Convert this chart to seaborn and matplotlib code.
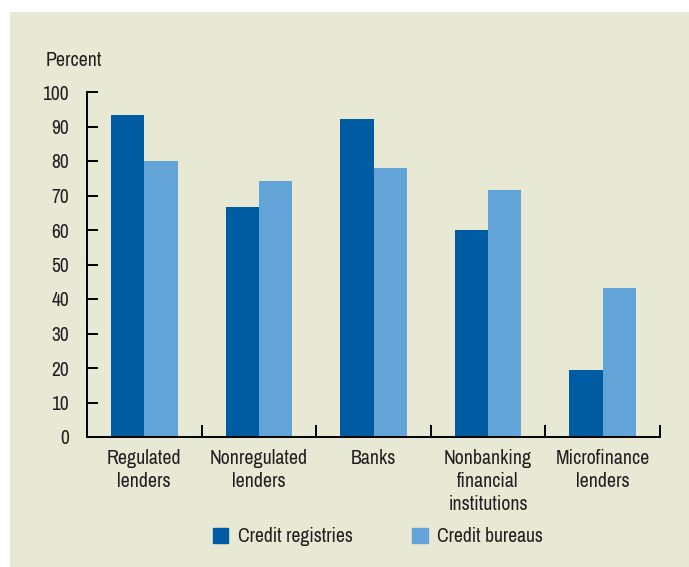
import matplotlib.pyplot as plt
import matplotlib.patches as mpatches
from matplotlib import font_manager
import pandas as pd
import seaborn as sns

categories = ["Regulated\nlenders", "Nonregulated\nlenders", "Banks",
              "Nonbanking\nfinancial\ninstitutions", "Microfinance\nlenders"]
registries = [93.3, 66.7, 92.2, 60.0, 19.4]
bureaus = [80.0, 74.2, 78.0, 71.6, 43.2]
series = ["Credit registries", "Credit bureaus"]
yticks = list(range(0, 101, 10))

data = pd.DataFrame({
    "category": categories * 2,
    "value": registries + bureaus,
    "series": [series[0]] * 5 + [series[1]] * 5,
})

bg = "#e7e9d5"
dark = "#005ca2"
light = "#62a3d8"
ink = "#231f20"

# pick a condensed face if there is one
installed = sorted({f.name for f in font_manager.fontManager.ttflist})
narrow = [n for n in installed if "Narrow" in n or "Condensed" in n]

sns.set_style("white")
plt.rcParams["font.family"] = narrow[:1] + ["Roboto", "DejaVu Sans"]
plt.rcParams["text.color"] = ink

fig = plt.figure(figsize=(6.89, 5.67), dpi=100)
fig.patch.set_facecolor("white")
fig.patches.append(mpatches.Rectangle((10 / 689, 0), 1, 1 - 12 / 567,
                                      transform=fig.transFigure,
                                      facecolor=bg, edgecolor="none", zorder=-10))
ax = fig.add_axes([87 / 689, 1 - 437 / 567, (660 - 87) / 689, (437 - 92) / 567])
ax.set_facecolor(bg)

sns.barplot(data=data, x="category", y="value", hue="series",
            palette=[dark, light], width=0.58, gap=0, saturation=1,
            edgecolor="none", ax=ax)

ax.set_xlim(-0.5, 4.5)
ax.set_ylim(0, 100)
ax.set_yticks(yticks)
ax.set_xlabel("")
ax.set_ylabel("")
for side in ["top", "right"]:
    ax.spines[side].set_visible(False)
for side in ["left", "bottom"]:
    ax.spines[side].set_color("black")
    ax.spines[side].set_linewidth(1.4)

ax.tick_params(axis="y", left=True, direction="in", length=8, width=1.4,
               color="black", labelsize=14, labelcolor=ink, pad=13)
ax.tick_params(axis="x", which="major", bottom=False, labelsize=14.3,
               labelcolor=ink, pad=5)
for lbl in ax.get_xticklabels():
    lbl.set_linespacing(1.28)
ax.set_xticks([0.5, 1.5, 2.5, 3.5, 4.5], minor=True)
ax.tick_params(axis="x", which="minor", bottom=True, direction="in", length=9,
               width=1.4, color="black")

fig.text(46 / 689, 1 - 61 / 567, "Percent", fontsize=14.3, va="center", ha="left")

handles = [mpatches.Patch(color=dark), mpatches.Patch(color=light)]
ax.get_legend().remove()
fig.legend(handles, series, loc="center", bbox_to_anchor=(378 / 689, 1 - 537 / 567),
           ncol=2, frameon=False, fontsize=14.1, handlelength=0.8, handleheight=0.8,
           handletextpad=0.5, columnspacing=3.0)

fig.savefig("out.png", dpi=100)
